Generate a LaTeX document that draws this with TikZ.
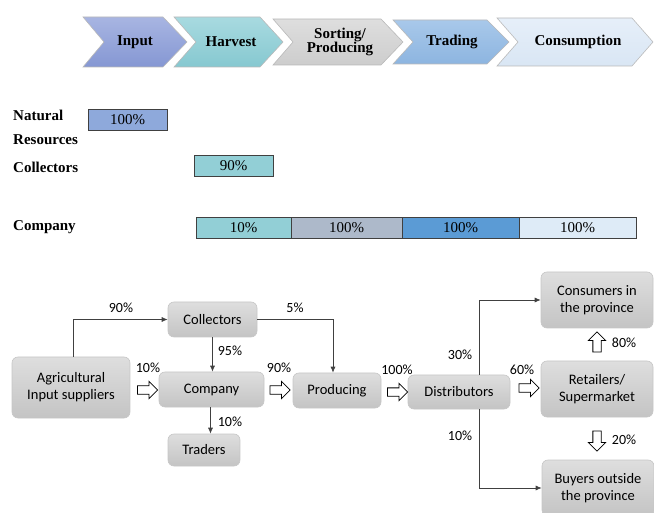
\documentclass[tikz,border=0pt]{standalone}
\usepackage{fontspec}
\setmainfont{Liberation Serif}
\newfontfamily\flowfont{Carlito}
\usetikzlibrary{shapes.arrows,arrows.meta}
\definecolor{cinA}{HTML}{A8B5E2}\definecolor{cinB}{HTML}{8597D3}
\definecolor{chvA}{HTML}{A8DAE0}\definecolor{chvB}{HTML}{86C8D0}
\definecolor{csoA}{HTML}{DEDEDE}\definecolor{csoB}{HTML}{CDCDCD}
\definecolor{ctrA}{HTML}{A8C8EA}\definecolor{ctrB}{HTML}{8DB5E0}
\definecolor{ccoA}{HTML}{E6EFF9}\definecolor{ccoB}{HTML}{D9E6F4}
\definecolor{barNat}{HTML}{8EA9DB}
\definecolor{barTeal}{HTML}{92CFD6}
\definecolor{barGray}{HTML}{ADB9CA}
\definecolor{barBlue}{HTML}{5B9BD5}
\definecolor{barLight}{HTML}{DEEBF7}
\definecolor{linecol}{HTML}{404040}
\definecolor{boxA}{HTML}{DEDEDE}\definecolor{boxB}{HTML}{C4C4C4}
\begin{document}
\begin{tikzpicture}[x=1pt,y=-1pt,
  chev/.style={draw=gray!55,line width=0.6pt},
  chevtxt/.style={font=\fontsize{15}{15}\selectfont\bfseries,align=center,inner sep=0},
  rowlbl/.style={font=\fontsize{15}{15}\selectfont\bfseries,anchor=west,inner sep=0},
  bar/.style={draw=linecol,line width=0.6pt,minimum height=21pt,inner sep=0,font=\fontsize{15}{15}\selectfont},
  fbox/.style={rounded corners=6pt,draw=gray!45,line width=0.6pt,top color=boxA,bottom color=boxB,
     font=\flowfont\fontsize{14.5}{17}\selectfont,align=center,inner sep=0},
  pct/.style={font=\flowfont\fontsize{14}{14}\selectfont,inner sep=0},
  arr/.style={draw=linecol,line width=0.7pt,-{Latex[length=6pt,width=5pt]}},
  barrow/.style={single arrow,draw=black,fill=white,line width=0.8pt,minimum height=20pt,
     single arrow head extend=4.5pt,inner sep=0,outer sep=0}
]
\useasboundingbox (0,0) rectangle (654,513);
% chevrons
\shade[top color=cinA,bottom color=cinB] (83,17) -- (163,17) -- (187,42) -- (163,67) -- (83,67) -- (104,42) -- cycle;
\shade[top color=chvA,bottom color=chvB] (174,17) -- (260,17) -- (283,42) -- (260,67) -- (174,67) -- (196,42) -- cycle;
\shade[top color=csoA,bottom color=csoB] (273,19) -- (381,19) -- (403,42) -- (381,65) -- (273,65) -- (293,42) -- cycle;
\shade[top color=ctrA,bottom color=ctrB] (393,20) -- (487,20) -- (509,42) -- (487,64) -- (393,64) -- (413,42) -- cycle;
\shade[top color=ccoA,bottom color=ccoB] (497,18) -- (632,18) -- (653,42) -- (632,66) -- (497,66) -- (518,42) -- cycle;
\draw[chev] (83,17) -- (163,17) -- (187,42) -- (163,67) -- (83,67) -- (104,42) -- cycle;
\draw[chev] (174,17) -- (260,17) -- (283,42) -- (260,67) -- (174,67) -- (196,42) -- cycle;
\draw[chev] (273,19) -- (381,19) -- (403,42) -- (381,65) -- (273,65) -- (293,42) -- cycle;
\draw[chev] (393,20) -- (487,20) -- (509,42) -- (487,64) -- (393,64) -- (413,42) -- cycle;
\draw[chev] (497,18) -- (632,18) -- (653,42) -- (632,66) -- (497,66) -- (518,42) -- cycle;
\node[chevtxt] (tinput) at (135,42) {Input};
\node[chevtxt] (tharv) at (231,42) {Harvest};
\node[chevtxt] (tsort) at (340,42) {Sorting/\\[-1pt]Producing};
\node[chevtxt] (ttrad) at (452,42) {Trading};
\node[chevtxt] (tcons) at (578,42) {Consumption};
% row labels
\node[rowlbl] (lnat) at (13,115) {Natural};
\node[rowlbl] (lres) at (13,140) {Resources};
\node[rowlbl] (lcol) at (13,167) {Collectors};
\node[rowlbl] (lcom) at (13,227) {Company};
% bars
\node[bar,fill=barNat,minimum width=79pt] (bnat) at (127.5,120) {100\%};
\node[bar,fill=barTeal,minimum width=79pt] (bcol) at (233.5,166) {90\%};
\node[bar,fill=barTeal,minimum width=95pt] (bc1) at (243.5,228) {10\%};
\node[bar,fill=barGray,minimum width=111pt] (bc2) at (346.5,228) {100\%};
\node[bar,fill=barBlue,minimum width=117pt] (bc3) at (460.5,228) {100\%};
\node[bar,fill=barLight,minimum width=117pt] (bc4) at (577.5,228) {100\%};
% flow boxes
\node[fbox,minimum width=118pt,minimum height=61pt] (agri) at (71,387.5) {Agricultural\\Input suppliers};
\node[fbox,minimum width=89pt,minimum height=35pt] (coll) at (212.5,319.5) {Collectors};
\node[fbox,minimum width=105pt,minimum height=35pt] (comp) at (211.5,389.5) {Company};
\node[fbox,minimum width=72pt,minimum height=32pt] (trad) at (204,450) {Traders};
\node[fbox,minimum width=88pt,minimum height=35pt] (prod) at (337,390.5) {Producing};
\node[fbox,minimum width=102pt,minimum height=34pt] (dist) at (459,392) {Distributors};
\node[fbox,minimum width=112pt,minimum height=56pt] (cons) at (597,300) {Consumers in\\the province};
\node[fbox,minimum width=112pt,minimum height=56pt] (ret) at (597,389) {Retailers/\\Supermarket};
\node[fbox,minimum width=112pt,minimum height=56pt] (buy) at (598,488) {Buyers outside\\the province};
% connectors
\coordinate (agx) at (73,0);
\coordinate (dsplit) at (479,0);
\draw[arr] (agri.north -| agx) |- (coll.west);
\draw[arr] (coll.south) -- (coll.south |- comp.north);
\draw[arr] (coll.east) -| ([xshift=-4pt]prod.north);
\draw[arr] ([xshift=-1pt]comp.south) -- ([xshift=-1pt]comp.south |- trad.north);
\draw[arr] (dist.north -| dsplit) |- (cons.west);
\draw[arr] (dist.south -| dsplit) |- (buy.west);
% block arrows
\node[barrow] (ba1) at (145.5,390) {\rule{0pt}{7.5pt}};
\node[barrow] (ba2) at (278,390) {\rule{0pt}{7.5pt}};
\node[barrow] (ba3) at (395.5,392) {\rule{0pt}{7.5pt}};
\node[barrow] (ba4) at (527,388) {\rule{0pt}{7.5pt}};
\node[barrow,rotate=90] (ba5) at (597,344) {\rule{0pt}{7.5pt}};
\node[barrow,rotate=-90] (ba6) at (597,439) {\rule{0pt}{7.5pt}};
% percentages
\node[pct] (p1) at (121,308) {90\%};
\node[pct] (p2) at (230,351) {95\%};
\node[pct] (p3) at (295,308) {5\%};
\node[pct] (p4) at (230,422) {10\%};
\node[pct] (p5) at (148,368) {10\%};
\node[pct] (p6) at (279,368) {90\%};
\node[pct] (p7) at (397,370) {100\%};
\node[pct] (p8) at (522,370) {60\%};
\node[pct] (p9) at (460,355) {30\%};
\node[pct] (p10) at (460,436) {10\%};
\node[pct] (p11) at (624,343) {80\%};
\node[pct] (p12) at (624,440) {20\%};
\end{tikzpicture}
\end{document}
